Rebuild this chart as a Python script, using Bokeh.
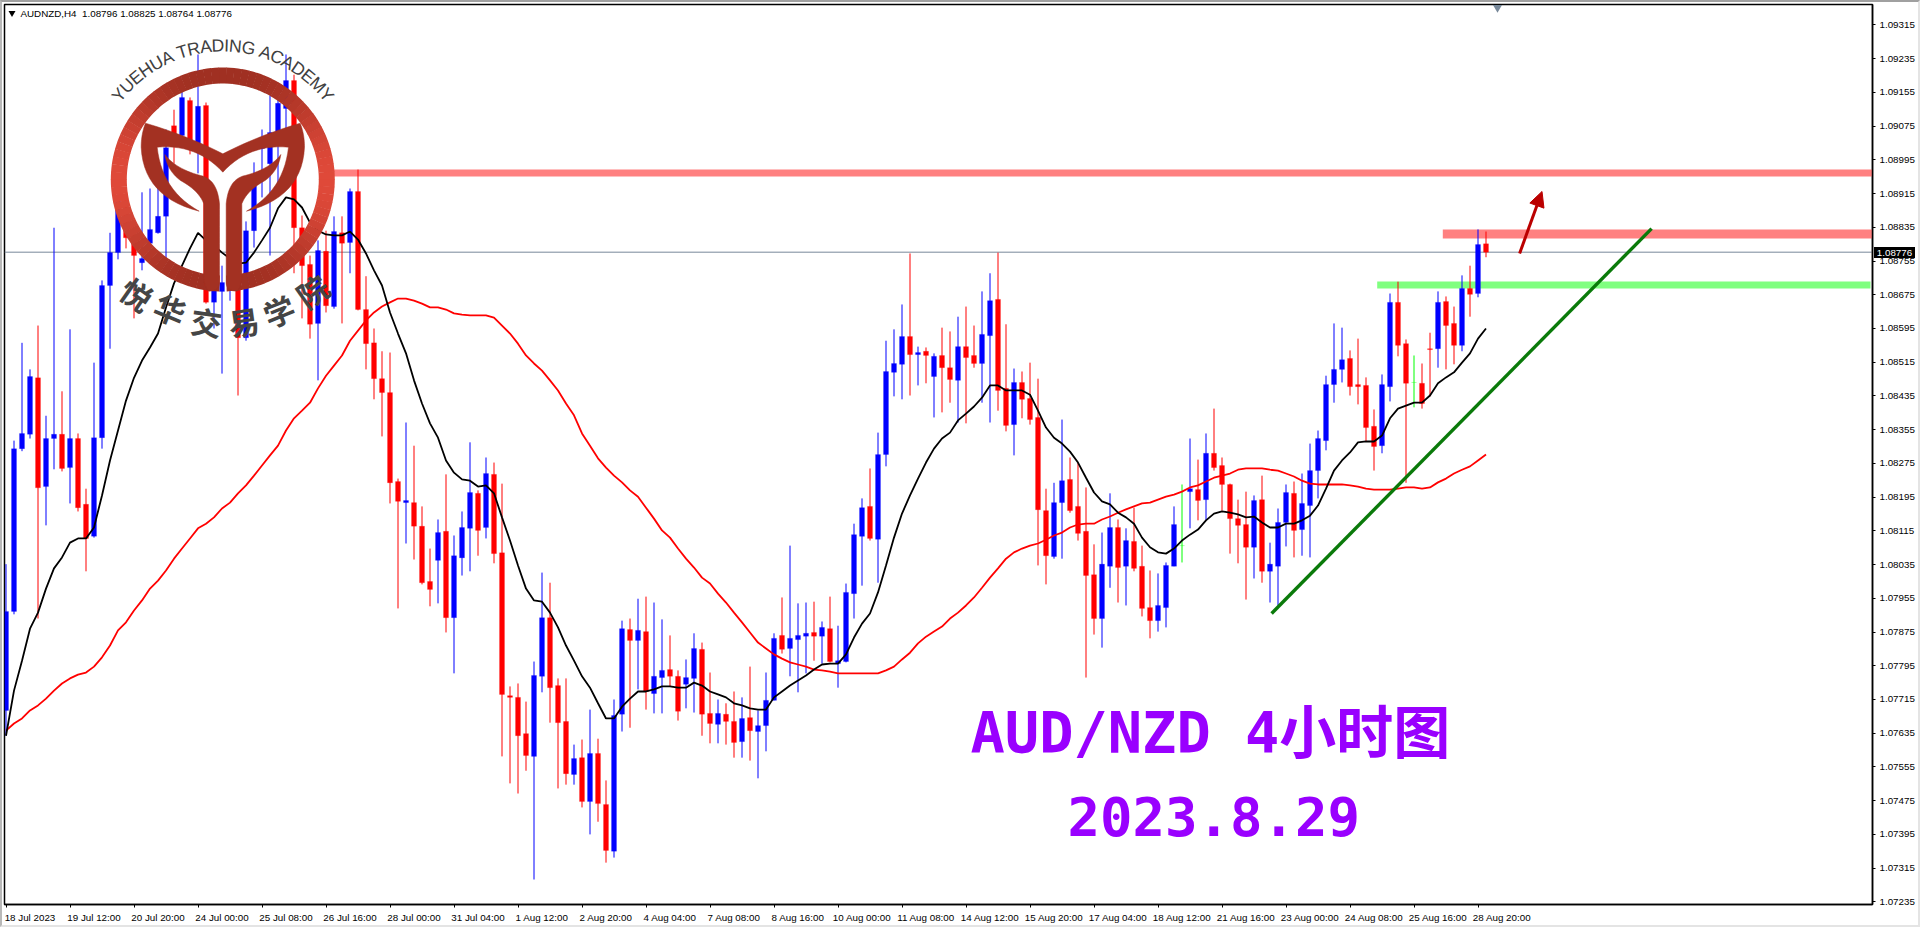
from math import cos, sin, pi, radians
from bokeh.plotting import figure
from bokeh.layouts import column
from bokeh.models import (LinearAxis, FixedTicker, PrintfTickFormatter, Range1d, Label, Div,
                          Arrow, NormalHead, ColumnDataSource, InlineStyleSheet)
from bokeh.core.properties import value
from bokeh.embed import file_html
from bokeh.resources import INLINE

# ---- chart values, AUDNZD H4, in points (1e-5) ----
opens = [107689,107924,108310,108344,108478,108220,108334,108344,108265,108334,
 108178,108102,108336,108697,108775,108899,108818,108751,108797,108822,
 108861,109076,109053,109136,109029,109124,108657,108683,108697,108692,
 108573,108827,109022,108986,109060,109117,109183,108834,108747,108607,
 108778,108647,108822,108799,108920,108640,108561,108476,108443,108232,
 108182,108182,108126,107995,108045,108114,107909,108051,108121,108204,
 108123,108249,108063,107724,107720,107634,107580,107770,107909,107748,
 107663,107537,107577,107473,107587,107466,107355,107680,107881,107855,
 107876,107729,107767,107786,107770,107751,107765,107834,107682,107656,
 107680,107663,107615,107672,107639,107653,107713,107867,107836,107857,
 107865,107874,107865,107883,107800,107805,107966,108102,108173,108095,
 108296,108491,108510,108576,108533,108541,108481,108531,108502,108472,
 108552,108531,108512,108578,108664,108453,108367,108467,108429,108384,
 108163,108054,108182,108237,108173,108114,108011,107907,108031,108123,
 108031,108090,108031,107933,107902,107933,108031,108080,108208,108213,
 108189,108299,108270,108225,108144,108130,108076,108189,108019,108031,
 108135,108204,108118,108175,108258,108329,108462,108498,108524,108462,
 108460,108363,108317,108457,108657,108559,108467,108465,108547,108547,
 108659,108607,108555,108690,108678,108796]
highs = [108036,108329,108561,108498,108602,108388,108834,108446,108593,108346,
 108215,108514,108709,108822,108934,108922,108820,108918,108927,108998,
 109067,109114,109164,109143,109245,109131,108733,108744,108721,108709,
 108849,108989,109067,109148,109171,109245,109197,108863,108768,108804,
 108827,108861,108861,108927,108972,108719,108595,108541,108538,108239,
 108372,108317,108173,108073,108142,108249,108104,108161,108325,108211,
 108289,108277,108227,107746,107753,107710,107805,108016,107992,107765,
 107765,107608,107620,107691,107622,107523,107715,107902,107907,107954,
 107959,107945,107905,107867,107784,107810,107872,107850,107779,107715,
 107706,107734,107720,107793,107689,107779,107872,107957,108080,107943,
 107945,107947,107900,107959,107890,107990,108132,108192,108263,108348,
 108566,108593,108652,108773,108552,108550,108536,108597,108588,108623,
 108647,108602,108683,108726,108775,108605,108500,108493,108514,108476,
 108215,108229,108379,108289,108277,108218,108083,108111,108204,108142,
 108121,108170,108080,108021,108014,108040,108173,108225,108334,108284,
 108346,108405,108289,108227,108189,108208,108199,108246,108087,108168,
 108225,108232,108251,108322,108353,108483,108607,108597,108543,108571,
 108479,108403,108486,108678,108706,108569,108531,108512,108585,108683,
 108671,108647,108721,108744,108830,108825]
lows = [107629,107917,108304,108334,107907,108128,108261,108256,108180,108161,
 108019,108099,108310,108547,108759,108785,108619,108733,108756,108820,
 108761,108986,109041,109008,108963,108654,108595,108488,108661,108436,
 108566,108787,108906,108768,108939,109065,108726,108619,108571,108472,
 108633,108642,108607,108726,108638,108498,108427,108339,108180,107931,
 108085,108047,107988,107936,107943,107874,107777,108009,108019,108056,
 108097,108038,107580,107516,107492,107546,107288,107732,107660,107504,
 107513,107513,107459,107395,107425,107328,107340,107639,107648,107739,
 107691,107682,107682,107746,107665,107694,107684,107629,107611,107611,
 107608,107577,107577,107570,107528,107592,107713,107824,107770,107732,
 107777,107807,107800,107803,107743,107803,107907,107985,108092,107992,
 108268,108434,108427,108436,108460,108465,108384,108396,108419,108372,
 108370,108502,108419,108372,108400,108351,108294,108382,108367,108033,
 107988,108049,108049,108158,108092,107767,107869,107838,107980,107945,
 107938,108019,107912,107860,107876,107886,108031,108040,108121,108140,
 108140,108258,108163,108061,108038,107952,108002,107992,107945,107938,
 108078,108052,108056,108052,108192,108306,108419,108467,108436,108415,
 108327,108258,108299,108422,108529,108229,108408,108405,108434,108502,
 108498,108510,108541,108623,108669,108764]
closes = [107924,108310,108346,108481,108217,108334,108344,108263,108334,108170,
 108097,108336,108697,108775,108899,108810,108768,108761,108830,108861,
 109024,109041,109143,109041,109122,108657,108685,108704,108709,108573,
 108827,108934,109048,109060,109129,109183,108834,108744,108605,108780,
 108649,108825,108797,108920,108640,108559,108476,108443,108229,108185,
 108187,108126,107992,107976,108111,107909,108056,108123,108206,108116,
 108251,108061,107727,107720,107629,107582,107772,107909,107743,107660,
 107539,107575,107473,107587,107468,107357,107677,107883,107855,107879,
 107734,107770,107784,107770,107687,107767,107836,107680,107658,107682,
 107663,107613,107670,107641,107653,107713,107860,107834,107860,107867,
 107872,107865,107886,107805,107807,107969,108106,108170,108097,108296,
 108493,108512,108576,108533,108538,108531,108529,108502,108474,108552,
 108526,108512,108581,108661,108448,108365,108467,108427,108379,108165,
 108056,108182,108234,108163,108109,108009,107907,108036,108123,108028,
 108092,108026,107931,107902,107938,108033,108130,108080,108215,108187,
 108299,108265,108225,108144,108128,108076,108187,108019,108036,108135,
 108206,108116,108180,108258,108334,108462,108498,108521,108457,108457,
 108360,108315,108462,108657,108555,108465,108467,108417,108545,108657,
 108602,108555,108690,108676,108794,108776]
ma_fast = [107629,107736,107807,107883,107921,107978,108026,108052,108087,108097,
 108097,108123,108199,108282,108353,108424,108478,108519,108550,108583,
 108645,108702,108744,108785,108822,108804,108792,108775,108761,108749,
 108751,108775,108804,108834,108880,108906,108901,108882,108846,108827,
 108818,108816,108816,108825,108806,108773,108733,108697,108633,108583,
 108536,108472,108417,108370,108336,108282,108253,108237,108234,108220,
 108223,108204,108147,108092,108033,107978,107950,107947,107921,107886,
 107843,107807,107770,107743,107706,107670,107670,107698,107717,107734,
 107734,107739,107746,107746,107743,107743,107755,107748,107734,107727,
 107720,107706,107701,107694,107691,107691,107720,107734,107748,107760,
 107772,107786,107798,107800,107800,107822,107862,107895,107919,107969,
 108033,108099,108156,108199,108239,108277,108310,108334,108348,108377,
 108393,108410,108431,108460,108460,108448,108448,108448,108438,108400,
 108360,108336,108322,108303,108277,108241,108206,108185,108178,108158,
 108147,108132,108099,108076,108064,108061,108073,108092,108106,108118,
 108140,108156,108161,108158,108154,108147,108149,108135,108123,108123,
 108132,108132,108140,108151,108175,108215,108258,108282,108301,108325,
 108327,108327,108341,108382,108405,108412,108419,108419,108436,108465,
 108479,108491,108514,108536,108571,108595]
ma_slow = [107641,107658,107670,107689,107701,107717,107736,107753,107765,107774,
 107779,107793,107815,107843,107879,107898,107926,107950,107978,107997,
 108021,108049,108073,108097,108121,108132,108147,108168,108182,108204,
 108223,108246,108270,108294,108317,108353,108382,108400,108419,108453,
 108483,108507,108531,108566,108590,108614,108633,108647,108657,108666,
 108666,108661,108654,108645,108645,108640,108631,108628,108626,108626,
 108626,108621,108602,108583,108559,108531,108512,108495,108472,108448,
 108417,108389,108346,108317,108287,108265,108246,108230,108211,108196,
 108170,108144,108116,108099,108073,108049,108028,108004,107990,107966,
 107945,107921,107898,107874,107850,107836,107822,107812,107803,107798,
 107793,107786,107784,107781,107777,107777,107777,107777,107777,107777,
 107784,107793,107810,107826,107848,107864,107876,107888,107907,107921,
 107938,107957,107980,108004,108026,108049,108064,108073,108080,108085,
 108094,108104,108111,108123,108130,108132,108132,108142,108149,108158,
 108166,108173,108180,108182,108189,108196,108201,108208,108218,108223,
 108232,108241,108246,108251,108260,108263,108263,108263,108260,108258,
 108251,108244,108234,108227,108225,108225,108225,108225,108223,108220,
 108215,108213,108213,108213,108215,108218,108218,108215,108218,108230,
 108239,108251,108260,108268,108282,108296]

x_tick_index = [0,8,16,24,32,40,48,56,64,72,80,88,96,104,112,120,128,136,144,152,160,168,176,184]
x_tick_labels = ["18 Jul 2023","19 Jul 12:00","20 Jul 20:00","24 Jul 00:00","25 Jul 08:00","26 Jul 16:00",
                 "28 Jul 00:00","31 Jul 04:00","1 Aug 12:00","2 Aug 20:00","4 Aug 04:00","7 Aug 08:00",
                 "8 Aug 16:00","10 Aug 00:00","11 Aug 08:00","14 Aug 12:00","15 Aug 20:00","17 Aug 04:00",
                 "18 Aug 12:00","21 Aug 16:00","23 Aug 00:00","24 Aug 08:00","25 Aug 16:00","28 Aug 20:00"]
y_ticks = [1.07235,1.07315,1.07395,1.07475,1.07555,1.07635,1.07715,1.07795,1.07875,1.07955,
           1.08035,1.08115,1.08195,1.08275,1.08355,1.08435,1.08515,1.08595,1.08675,1.08755,
           1.08835,1.08915,1.08995,1.09075,1.09155,1.09235,1.09315]
resistance_upper = 1.08964
resistance_lower = 1.08819
support_level = 1.08698
last_price = 1.08776
trend_x = [158.2, 205.7]
trend_y = [1.07919, 1.08832]
arrow_x = [189.2, 192.0]
arrow_y = [1.08773, 1.08920]

# ---- layout ----
FRAME_L, FRAME_T, FRAME_W, FRAME_H = 4, 4, 1868, 900
PT = 1e-5
def pts(a):
    return [v * PT for v in a]
def dx(px):            # page pixel -> bar index (used only for overlay artwork)
    return (px - 5.5) / 8
def dy(py):            # page pixel -> price (used only for overlay artwork)
    return (109373 - 2.372 * py) * PT

edge = InlineStyleSheet(css=""":host::after{content:'';position:absolute;left:0;top:0;width:100%;height:100%;
box-sizing:border-box;pointer-events:none;border-top:2px solid #a0a0a0;border-left:2px solid #b8b8b8;
border-right:2px solid #e4e4e4;border-bottom:2px solid #e4e4e4}""")
p = figure(frame_width=FRAME_W, frame_height=FRAME_H, output_backend="svg", toolbar_location=None,
           x_range=Range1d(dx(FRAME_L), dx(FRAME_L + FRAME_W)),
           y_range=Range1d(dy(FRAME_T + FRAME_H), dy(FRAME_T)),
           x_axis_location=None, y_axis_location=None,
           min_border_left=FRAME_L, min_border_top=FRAME_T, min_border_right=48, min_border_bottom=23,
           background_fill_color="white", border_fill_color="white",
           outline_line_color="black", outline_line_width=1.5, stylesheets=[edge])
p.grid.visible = False

AXIS_FONT = "Liberation Sans"
AXIS_SIZE = "9.8px"

yax = LinearAxis(ticker=FixedTicker(ticks=y_ticks), formatter=PrintfTickFormatter(format="%.5f"),
                 major_tick_in=0, major_tick_out=3, minor_tick_out=0, minor_tick_in=0,
                 major_label_standoff=4, major_label_text_font=AXIS_FONT, major_label_text_font_size=AXIS_SIZE,
                 major_label_text_color="black", axis_line_color="black", axis_line_width=1.5, major_tick_line_color="black")
p.add_layout(yax, "right")

xax = LinearAxis(ticker=FixedTicker(ticks=x_tick_index), major_tick_in=0, major_tick_out=3,
                 minor_tick_out=0, minor_tick_in=0, axis_line_color="black", axis_line_width=1.5,
                 major_label_overrides={i: " " for i in x_tick_index},
                 major_label_standoff=0, major_label_text_font_size="1px")
p.add_layout(xax, "below")
LABEL_SHIFT = 3     # labels start at the tick, so their centre sits right of it
xlab = LinearAxis(ticker=FixedTicker(ticks=[i + LABEL_SHIFT for i in x_tick_index]),
                  major_tick_in=0, major_tick_out=0, minor_tick_in=0, minor_tick_out=0, axis_line_color=None,
                  major_label_overrides={i + LABEL_SHIFT: t for i, t in zip(x_tick_index, x_tick_labels)},
                  major_label_standoff=0, major_label_text_font=AXIS_FONT, major_label_text_font_size=AXIS_SIZE,
                  major_label_text_color="black")
p.add_layout(xlab, "below")

# ---- level zones (behind the bars) ----
RIGHT = dx(FRAME_L + FRAME_W)
p.segment([40], [resistance_upper], [RIGHT], [resistance_upper], line_color="#ff8080", line_width=7, line_cap="butt")
p.segment([179.6], [resistance_lower], [RIGHT], [resistance_lower], line_color="#ff8080", line_width=9, line_cap="butt")
p.segment([171.4], [support_level], [dx(1870)], [support_level], line_color="#80ff80", line_width=7, line_cap="butt")
p.line([dx(FRAME_L), RIGHT], [last_price, last_price], line_color="#778899", line_width=1)

# ---- candles ----
idx = list(range(len(opens)))
def col(o, c):
    return "#0000ff" if c > o else "#ff0000" if c < o else "#00ff00"
src = ColumnDataSource(dict(x=idx, o=pts(opens), h=pts(highs), l=pts(lows), c=pts(closes),
                            color=[col(o, c) for o, c in zip(opens, closes)]))
p.segment("x", "h", "x", "l", source=src, line_color="color", line_width=1)
p.vbar("x", width=5 / 8, top="o", bottom="c", source=src, fill_color="color", line_color="color", line_width=0.2)

# ---- moving averages and annotations ----
p.line(idx, pts(ma_slow), line_color="#ff0000", line_width=1.8)
p.line(idx, pts(ma_fast), line_color="#000000", line_width=1.8)
p.line(trend_x, trend_y, line_color="#0a7a0a", line_width=3.4)
p.add_layout(Arrow(end=NormalHead(size=15, fill_color="#bb0000", line_color="#bb0000"),
                   x_start=arrow_x[0], y_start=arrow_y[0], x_end=arrow_x[1], y_end=arrow_y[1],
                   line_color="#bb0000", line_width=3))
p.scatter([dx(1497)], [dy(7)], marker="inverted_triangle", size=9, fill_color="#778899", line_color=None)
p.scatter([dx(11.5)], [dy(12.5)], marker="inverted_triangle", size=7, fill_color="black", line_color=None)

# ---- logo artwork, on top of the bars ----
LOGO_CX, LOGO_CY = 222.3, 179
def mix(t):
    a, b = (0xa0, 0x30, 0x22), (0xe0, 0x4a, 0x3a)
    return "#%02x%02x%02x" % tuple(int(u + (w - u) * t) for u, w in zip(a, b))
STEP = 4
starts = [radians(a) for a in range(-88, 268, STEP)]
ends = [s + radians(STEP) + 0.004 for s in starts]
colors = [mix(abs(cos((s + e) / 2)) ** 3) for s, e in zip(starts, ends)]
p.annular_wedge([dx(LOGO_CX)] * len(starts), [dy(LOGO_CY)] * len(starts), inner_radius=96, outer_radius=112,
                inner_radius_units="screen", outer_radius_units="screen",
                start_angle=starts, end_angle=ends, fill_color=colors, line_color=None)

def quad(a, c, b, n=14):
    out = []
    for k in range(n):
        t = k / n
        out.append(((1 - t) ** 2 * a[0] + 2 * t * (1 - t) * c[0] + t ** 2 * b[0],
                    (1 - t) ** 2 * a[1] + 2 * t * (1 - t) * c[1] + t ** 2 * b[1]))
    return out
def outline(curves):
    pts_ = []
    for cv in curves:
        pts_ += quad(*cv)
    return pts_
LOGO_RED = "#a33122"
horn = [((435,368),(560,405),(667,460)), ((667,460),(774,405),(899,368)),
        ((899,368),(912,400),(912,440)), ((912,440),(905,590),(738,632)),
        ((738,632),(850,570),(864,440)), ((864,440),(745,430),(667,515)),
        ((667,515),(589,430),(470,440)), ((470,440),(484,570),(596,632)),
        ((596,632),(429,590),(422,440)), ((422,440),(422,400),(435,368))]
leaf = [((493,462),(525,505),(600,525)), ((600,525),(650,535),(657,610)),
        ((657,610),(657,730),(657,845)), ((657,845),(657,872),(625,872)),
        ((625,872),(610,860),(610,822)), ((610,822),(610,715),(610,610)),
        ((610,610),(595,570),(540,540)), ((540,540),(500,510),(493,462))]
h = outline(horn)
lf = outline(leaf)
rf = [(1334 - a, b) for a, b in lf]
for shape in (h, lf, rf):
    p.patch([dx(a / 3) for a, b in shape], [dy(b / 3) for a, b in shape], fill_color=LOGO_RED, line_color=LOGO_RED, line_width=0.5)

ARC_TEXT = "YUEHUA TRADING ACADEMY"
EM = dict(Y=.667, U=.722, E=.667, H=.722, A=.667, T=.611, R=.722, D=.722, I=.278, N=.722, G=.778, C=.722, M=.833)
EM[" "] = .278
ARC_SIZE, ARC_R = 17.6, 134
total = sum(EM[ch] for ch in ARC_TEXT) * ARC_SIZE
run = -total / 2
ax, ay, at, aa = [], [], [], []
for ch in ARC_TEXT:
    w = EM[ch] * ARC_SIZE
    th = (run + w / 2) / ARC_R
    run += w
    if ch == " ":
        continue
    ax.append(dx(LOGO_CX + ARC_R * sin(th)))
    ay.append(dy(LOGO_CY - ARC_R * cos(th)))
    at.append(ch)
    aa.append(-th)
p.text(ax, ay, text=at, angle=aa, text_font=value("Liberation Sans"), text_font_size="%.1fpx" % ARC_SIZE,
       text_color="#404040", text_align="center", text_baseline="middle")

cn_text = ["悦", "华", "交", "易", "学", "院"]
cn_at = [(410, 880), (510, 925), (618, 962), (730, 962), (835, 930), (935, 870)]
cn_angle = [-35, -22, -8, 8, 22, 35]
p.text([dx(a / 3) for a, b in cn_at], [dy(b / 3) for a, b in cn_at], text=cn_text,
       angle=[radians(a) for a in cn_angle], text_font=value("Noto Sans CJK SC"), text_font_style="bold",
       text_font_size="31px", text_color="#454545", text_align="center", text_baseline="middle")

# ---- texts ----
BIG = "DejaVu Sans Mono, Noto Sans CJK SC"
p.add_layout(Label(x=dx(970), y=dy(732), text="AUD/NZD 4小时图", text_font=BIG, text_font_style="bold",
                   text_font_size="57px", text_color="#9900ff", text_baseline="alphabetic", text_align="left"))
p.add_layout(Label(x=dx(1067), y=dy(816), text="2023.8.29", text_font=BIG, text_font_style="bold",
                   text_font_size="54px", text_color="#9900ff", text_baseline="alphabetic", text_align="left"))
p.add_layout(Label(x=dx(20), y=dy(12.5), text="AUDNZD,H4\u00a0 1.08796 1.08825 1.08764 1.08776",
                   text_font=AXIS_FONT, text_font_size=AXIS_SIZE, text_color="black",
                   text_baseline="middle", text_align="left"))

# last-price tag over the price axis
tag = Div(text="%.5f" % last_price, width=41, height=11, margin=0,
          styles={"position": "absolute", "left": "1874px", "top": "246.5px", "background": "black", "color": "white",
                  "font-family": AXIS_FONT, "font-size": AXIS_SIZE, "line-height": "11px", "text-align": "center",
                  "z-index": "5"})
layout = column(p, tag, margin=0)

open("out.html", "w").write(file_html(layout, INLINE))
